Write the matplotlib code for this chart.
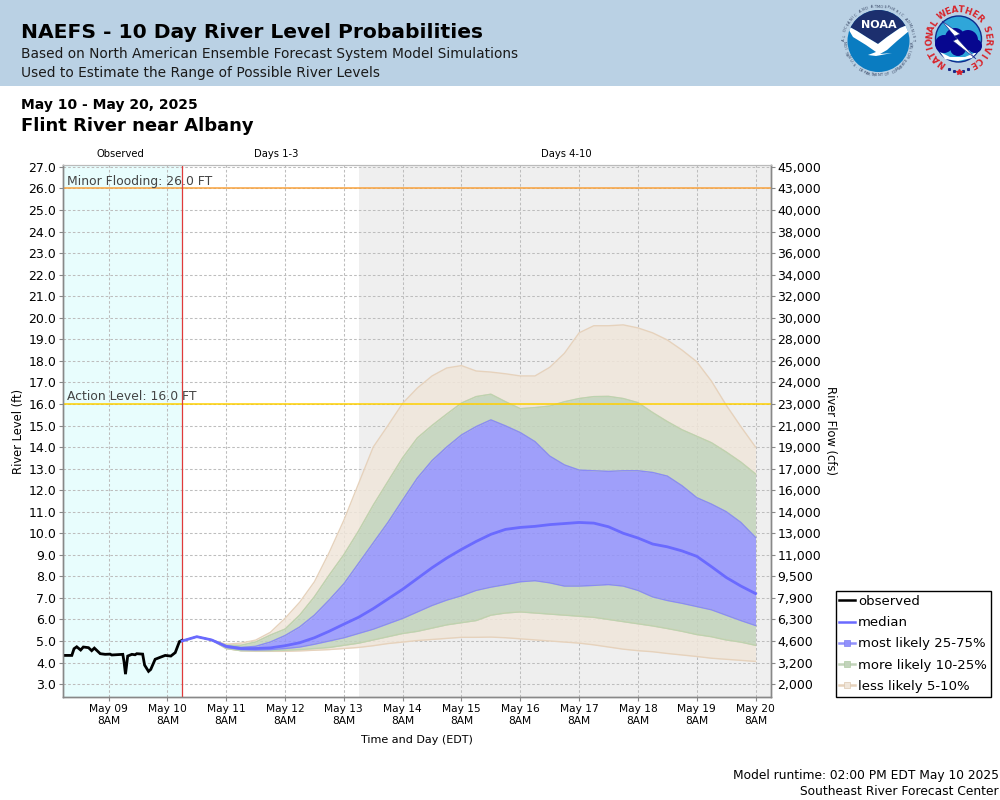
#!/usr/bin/env python3
"""NAEFS 10 day river level probabilities, Flint River near Albany"""

import numpy as np
import matplotlib
matplotlib.use('Agg')
import matplotlib.pyplot as plt
from matplotlib.lines import Line2D
from matplotlib.patches import Circle, Polygon, Rectangle

# hours relative to May 10 8AM
obs_hours = [-42.1, -39.0, -38.1, -37.0, -35.4, -34.3, -32.2, -30.9, -29.8, -27.4, -25.4,
             -23.4, -22.7, -18.2, -17.7, -17.1, -16.2, -14.5, -13.2, -12.5, -10.1, -9.3,
             -7.7, -6.8, -5.0, -3.0, -0.9, 1.4, 3.2, 4.9, 6.0]
obs_level = [4.33, 4.33, 4.64, 4.73, 4.58, 4.72, 4.69, 4.55, 4.67, 4.41, 4.38,
             4.39, 4.35, 4.38, 4.04, 3.46, 4.30, 4.38, 4.36, 4.41, 4.39, 3.88,
             3.59, 3.68, 4.15, 4.24, 4.33, 4.30, 4.46, 4.97, 5.03]

fcst_hours = [6, 12, 18, 24, 30, 36, 42, 48, 54, 60, 66, 72, 78, 84, 90, 96, 102, 108, 114, 120,
              126, 132, 138, 144, 150, 156, 162, 168, 174, 180, 186, 192, 198, 204, 210, 216,
              222, 228, 234, 240]
median = [5.0, 5.2, 5.05, 4.75, 4.65, 4.65, 4.68, 4.78, 4.92, 5.15, 5.45, 5.78, 6.1, 6.5, 6.95,
          7.4, 7.9, 8.4, 8.85, 9.25, 9.62, 9.95, 10.18, 10.27, 10.32, 10.4, 10.45, 10.5, 10.47,
          10.3, 10.0, 9.78, 9.5, 9.37, 9.18, 8.93, 8.45, 7.95, 7.55, 7.2]
p75 = [5.0, 5.2, 5.05, 4.78, 4.7, 4.75, 4.95, 5.25, 5.65, 6.2, 6.9, 7.65, 8.6, 9.55, 10.5,
       11.54, 12.56, 13.37, 14.0, 14.56, 14.95, 15.26, 14.98, 14.67, 14.25, 13.58, 13.17, 12.93,
       12.9, 12.87, 12.9, 12.9, 12.82, 12.65, 12.2, 11.65, 11.35, 11.0, 10.5, 9.8]
p25 = [5.0, 5.2, 5.05, 4.7, 4.6, 4.58, 4.6, 4.65, 4.72, 4.85, 5.0, 5.15, 5.35, 5.55, 5.8,
       6.05, 6.35, 6.65, 6.9, 7.1, 7.35, 7.5, 7.62, 7.75, 7.8, 7.7, 7.55, 7.55, 7.58, 7.62,
       7.55, 7.35, 7.05, 6.88, 6.75, 6.6, 6.45, 6.2, 5.95, 5.72]
p90 = [5.0, 5.2, 5.05, 4.8, 4.8, 4.95, 5.27, 5.55, 6.2, 7.05, 8.05, 9.0, 10.1, 11.3, 12.4,
       13.5, 14.42, 15.0, 15.53, 16.04, 16.34, 16.45, 16.1, 15.78, 15.83, 15.9, 16.1, 16.25,
       16.34, 16.35, 16.25, 16.06, 15.6, 15.18, 14.8, 14.5, 14.2, 13.77, 13.3, 12.75]
p10 = [5.0, 5.2, 5.05, 4.65, 4.55, 4.55, 4.55, 4.57, 4.6, 4.65, 4.7, 4.8, 4.9, 5.05, 5.2,
       5.35, 5.45, 5.6, 5.75, 5.85, 5.95, 6.2, 6.3, 6.35, 6.3, 6.25, 6.2, 6.15, 6.1, 6.0,
       5.9, 5.8, 5.7, 5.58, 5.45, 5.3, 5.2, 5.05, 4.95, 4.8]
p95 = [5.0, 5.2, 5.05, 4.85, 4.9, 5.04, 5.4, 6.05, 6.8, 7.75, 9.1, 10.6, 12.3, 14.0, 15.0,
       16.03, 16.74, 17.3, 17.67, 17.78, 17.53, 17.48, 17.4, 17.3, 17.3, 17.7, 18.35, 19.3,
       19.63, 19.63, 19.67, 19.53, 19.3, 18.97, 18.5, 17.96, 17.06, 15.95, 14.95, 14.0]
p05 = [5.0, 5.2, 5.05, 4.65, 4.55, 4.52, 4.52, 4.52, 4.54, 4.57, 4.6, 4.65, 4.7, 4.78, 4.88,
       4.95, 5.02, 5.07, 5.12, 5.17, 5.17, 5.18, 5.15, 5.1, 5.05, 5.0, 4.95, 4.9, 4.82, 4.72,
       4.62, 4.55, 4.5, 4.42, 4.35, 4.28, 4.2, 4.15, 4.1, 4.05]

level_ticks = [3, 4, 5, 6, 7, 8, 9, 10, 11, 12, 13, 14, 15, 16, 17, 18, 19, 20, 21, 22, 23, 24, 25, 26, 27]
flow_labels = ['2,000', '3,200', '4,600', '6,300', '7,900', '9,500', '11,000', '13,000', '14,000',
               '16,000', '17,000', '19,000', '21,000', '23,000', '24,000', '26,000', '28,000',
               '30,000', '32,000', '34,000', '36,000', '38,000', '40,000', '43,000', '45,000']
day_ticks = [-24, 0, 24, 48, 72, 96, 120, 144, 168, 192, 216, 240]
day_labels = ['May 09', 'May 10', 'May 11', 'May 12', 'May 13', 'May 14', 'May 15', 'May 16',
              'May 17', 'May 18', 'May 19', 'May 20']

action_level = 16
minor_flood = 26
runtime_hour = 6
days_4_10_start = 78

BLUE = '#9191FC'
GREEN = '#C2D3BB'
TAN = '#F0E6DA'
BLUE_EDGE = '#8A8AF6'
GREEN_EDGE = '#BCD3B0'
TAN_EDGE = '#E6D2BC'
MEDIAN = '#6A6AFF'


def draw_ring_text(ax, text, cx, cy, r, start, end, size, color, weight='normal', flip=True):
    """Put characters one by one around a circle, angles in degrees clockwise from north"""
    angles = np.linspace(start, end, len(text))
    for ch, a in zip(text, angles):
        t = np.radians(a)
        upright = -90 <= ((a + 180) % 360 - 180) <= 90
        rot = -a if upright or not flip else 180 - a
        ax.text(cx + r * np.sin(t), cy - r * np.cos(t), ch, fontsize=size, color=color,
                rotation=rot, ha='center', va='center', fontweight=weight,
                rotation_mode='anchor')


def draw_logos(ax):
    # NOAA
    cx, cy = 878.5, 41
    disc = Circle((cx, cy), 31, fc='#0A7CC1', ec='none')
    ax.add_patch(disc)
    navy = Polygon([(846, 25), (857, 31), (868, 38), (878, 44), (887, 37), (900, 28), (912, 23),
                    (912, 5), (846, 5)], fc='#1C2F6E', ec='none')
    ax.add_patch(navy)
    navy.set_clip_path(disc)
    wing = Polygon([(846, 25), (857, 31), (868, 38), (878, 44), (887, 37), (900, 28), (912, 23),
                    (909, 31), (897, 41), (887, 50), (880, 54), (892, 53), (876, 56), (868, 55),
                    (876, 52), (866, 45), (853, 37)], fc='white', ec='none')
    ax.add_patch(wing)
    wing.set_clip_path(disc)
    ax.text(cx, 25, 'NOAA', color='white', fontsize=8, fontweight='bold', ha='center', va='center')
    draw_ring_text(ax, 'NATIONAL OCEANIC AND ATMOSPHERIC ADMINISTRATION', cx, cy, 34.5, -118, 118,
                   2.6, '#33415f')
    draw_ring_text(ax, 'U.S. DEPARTMENT OF COMMERCE'[::-1], cx, cy, 34.5, 125, 235, 2.6, '#33415f')

    # NWS
    cx, cy = 958.5, 39
    ax.add_patch(Circle((cx, cy), 23, fc='#2FA6D9', ec='#0D2A8C', lw=1))
    ax.add_patch(Polygon([(940, 52), (950, 57), (965, 57), (977, 52), (972, 58), (958, 61), (945, 59)],
                         fc='white', ec='none'))
    for x, y, r in [(944, 44, 9), (955, 38, 10), (968, 40, 10), (975, 46, 7), (958, 48, 8)]:
        ax.add_patch(Circle((x, y), r, fc='#07078F', ec='none'))
    ax.add_patch(Polygon([(942, 21), (960, 34), (955, 36), (976, 59), (953, 41), (957, 39)],
                         fc='white', ec='#10208a', lw=0.4))
    draw_ring_text(ax, 'NATIONAL', cx, cy, 29, -145, -57, 6.3, '#D8232A', 'bold', flip=False)
    draw_ring_text(ax, 'WEATHER', cx, cy, 29, -35, 46, 6.3, '#D8232A', 'bold', flip=False)
    draw_ring_text(ax, 'SERVICE', cx, cy, 29, 69, 150, 6.3, '#D8232A', 'bold', flip=False)
    ax.plot([949, 954, 963, 968], [69, 71, 71, 69], 's', ms=1.2, color='#1a2a8a')
    ax.plot([958.5], [72], '*', ms=4, color='#D8232A')


fig = plt.figure(figsize=(10, 8), dpi=100)

# header and page text are laid out in pixels
page = fig.add_axes([0, 0, 1, 1], zorder=0)
page.set_xlim(0, 1000)
page.set_ylim(800, 0)
page.axis('off')
page.add_patch(Rectangle((0, 0), 1000, 86, fc='#BAD1E4', ec='none'))
page.text(21, 33, 'NAEFS - 10 Day River Level Probabilities', fontsize=14.6, fontweight='bold', va='center')
page.text(21, 54, 'Based on North American Ensemble Forecast System Model Simulations',
          fontsize=9.95, color='#1a1a1a', va='center')
page.text(21, 73, 'Used to Estimate the Range of Possible River Levels', fontsize=9.95, color='#1a1a1a', va='center')
page.text(21, 105, 'May 10 - May 20, 2025', fontsize=10.0, fontweight='bold', va='center')
page.text(21, 126, 'Flint River near Albany', fontsize=13.0, fontweight='bold', va='center')
page.text(120, 154, 'Observed', fontsize=7.2, ha='center', va='center')
page.text(276.5, 154, 'Days 1-3', fontsize=7.2, ha='center', va='center')
page.text(566.5, 154, 'Days 4-10', fontsize=7.2, ha='center', va='center')
page.text(999, 775, 'Model runtime: 02:00 PM EDT May 10 2025', fontsize=8.85, ha='right', va='center')
page.text(999, 791.5, 'Southeast River Forecast Center', fontsize=8.85, ha='right', va='center')
page.text(417, 740, 'Time and Day (EDT)', fontsize=8, ha='center', va='center')
draw_logos(page)

ax = fig.add_axes([0.063, 1 - 697 / 800, 0.7075, 532 / 800], zorder=2)
ax.set_xlim(-42.6, 246.1)
ax.set_ylim(2.4, 27.09)

ax.axvspan(ax.get_xlim()[0], runtime_hour, color='#E8FDFD', lw=0, zorder=0)
ax.axvspan(days_4_10_start, ax.get_xlim()[1], color='#EFEFEF', lw=0, zorder=0)
ax.grid(True, color='#BDBDBD', ls=(0, (2.5, 2)), lw=0.75, zorder=1)
ax.set_axisbelow(True)

for lo, hi, fc, ec in [(p90, p95, TAN, TAN_EDGE), (p05, p10, TAN, TAN_EDGE),
                       (p75, p90, GREEN, GREEN_EDGE), (p10, p25, GREEN, GREEN_EDGE),
                       (p25, p75, BLUE, BLUE_EDGE)]:
    ax.fill_between(fcst_hours, lo, hi, color=fc, alpha=0.85, lw=0, zorder=2)
    ax.plot(fcst_hours, hi, color=ec, lw=1, zorder=2.5)
    ax.plot(fcst_hours, lo, color=ec, lw=1, zorder=2.5)

ax.plot(obs_hours, obs_level, color='black', lw=2, zorder=4, solid_joinstyle='miter')
ax.plot(fcst_hours, median, color=MEDIAN, lw=2, zorder=4)

ax.axhline(minor_flood, color='#F9A23C', lw=1.1, zorder=3)
ax.axhline(action_level, color='#FFD000', lw=1.1, zorder=3)
ax.axvline(runtime_hour, color='#E03A3A', lw=0.9, zorder=3)
ax.text(-41, minor_flood + 0.33, 'Minor Flooding: 26.0 FT', fontsize=8.9, color='#444444', va='center', zorder=5)
ax.text(-41, action_level + 0.33, 'Action Level: 16.0 FT', fontsize=8.9, color='#444444', va='center', zorder=5)

ax.set_xticks(day_ticks)
ax.set_xticklabels([f'{d}\n8AM' for d in day_labels], fontsize=7.7, linespacing=1.3)
ax.set_yticks(level_ticks)
ax.set_yticklabels([f'{v:.1f}' for v in level_ticks], fontsize=9)
ax.tick_params(axis='both', color='#888888', length=3, width=0.8, pad=2)
ax.set_ylabel('River Level (ft)', fontsize=8.3, labelpad=2)

ax2 = ax.twinx()
ax2.set_position(ax.get_position())
ax2.set_ylim(ax.get_ylim())
ax2.set_yticks(level_ticks)
ax2.set_yticklabels(flow_labels, fontsize=9)
ax2.tick_params(axis='y', color='#888888', length=3, width=0.8, pad=2)
ax2.set_ylabel('River Flow (cfs)', fontsize=8.3, rotation=270, labelpad=11)
ax2.set_zorder(3)

for a in (ax, ax2):
    for side in ('left', 'bottom', 'right'):
        a.spines[side].set_color('#888888')
        a.spines[side].set_linewidth(1)
    a.spines['top'].set_color('#BBBBBB')

handles = [
    Line2D([], [], color='black', lw=1.8),
    Line2D([], [], color=MEDIAN, lw=1.8),
    Line2D([], [], color=BLUE, lw=1.8, marker='s', ms=5, mfc=BLUE, mec='#7F7FF0', mew=0.5),
    Line2D([], [], color=GREEN, lw=1.8, marker='s', ms=5, mfc=GREEN, mec='#AFCBA3', mew=0.5),
    Line2D([], [], color='#E6D2BC', lw=1.8, marker='s', ms=5, mfc=TAN, mec='#DCC8B0', mew=0.5),
]
labels = ['observed', 'median', 'most likely 25-75%', 'more likely 10-25%', 'less likely 5-10%']
leg = fig.legend(handles, labels, loc='upper left', bbox_to_anchor=(0.8355, 1 - 591 / 800),
                 fontsize=9.55, frameon=True, fancybox=False, edgecolor='black', framealpha=1,
                 borderpad=0.3, labelspacing=0.62, handlelength=1.15, handletextpad=0.25,
                 borderaxespad=0, numpoints=1)
leg.get_frame().set_linewidth(1)
leg.set_zorder(10)

fig.savefig('out.png', dpi=100)
